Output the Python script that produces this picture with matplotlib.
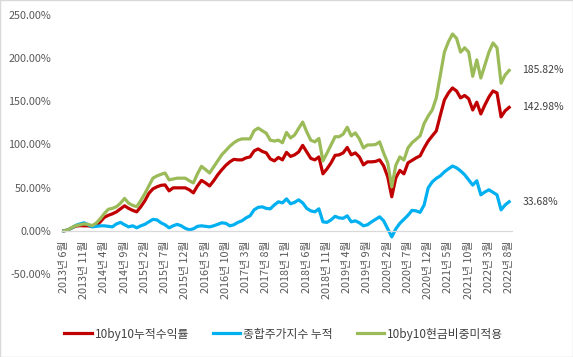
import matplotlib
matplotlib.use("Agg")
import matplotlib.pyplot as plt
from matplotlib.patches import Rectangle

plt.rcParams['font.family'] = ['Noto Sans CJK KR', 'DejaVu Sans']

# monthly months from 2013-06 to 2022-08
years = []
months = []
y, m = 2013, 6
while (y, m) <= (2022, 8):
    years.append(y)
    months.append(m)
    m += 1
    if m > 12:
        m = 1
        y += 1
labels = [f"{yy}년 {mm}월" for yy, mm in zip(years, months)]

series_names = ["10by10누적수익률", "종합주가지수 누적", "10by10현금비중미적용"]

red = [0, 1, 3.5, 5.5, 6, 5.8, 5.8, 5, 5.8, 10.4,
       15.6, 18, 19.7, 22, 25.5, 29, 26, 23.7, 22, 27.8,
       34.7, 43.4, 48.6, 51, 52.7, 53.2, 46.3, 49.8, 49.8, 49.8,
       49.8, 47.5, 44, 52, 58.4, 55.5, 52, 57.9, 64.8, 70.6,
       75.8, 79.9, 82.8, 82.2, 82.2, 84.5, 85.6, 92.6, 94.9, 92,
       90.3, 83.3, 81, 85, 82.2, 90.9, 86.2, 88, 91.4, 99,
       91.4, 83.9, 82.2, 85.6, 66, 71.8, 78.7, 87.4, 88, 90.3,
       96.6, 88, 90.3, 85.6, 76.4, 79.9, 79.9, 80.4, 82.2, 75.2,
       62.5, 39.4, 61.3, 70, 66, 78.7, 81.6, 84.5, 86.8, 96,
       104, 110, 115.7, 134, 151.6, 159.7, 165.5, 162, 154, 156.8,
       153, 140, 149, 135.4, 145.8, 155, 162, 159.7, 132, 139,
       142.98]

blue = [0, 1, 3.5, 6.4, 8, 9.3, 7, 4.6, 5.2, 5.8,
        5.8, 5.2, 4.6, 8, 9.8, 7, 4.6, 5.8, 3.5, 5.8,
        7.5, 10.4, 13.3, 12.7, 9.3, 7, 3.5, 5.8, 7.5, 5.8,
        2.9, 1.2, 2.3, 5.2, 5.8, 5.2, 4.6, 5.8, 7.5, 9.3,
        8.7, 5.8, 7, 9.8, 11.6, 15, 17.4, 24.3, 27.2, 27.8,
        26, 25.5, 30, 33.6, 32.4, 37, 31.3, 33, 35.9, 32.4,
        26, 23.1, 22, 25.5, 10.4, 9.8, 12.7, 16.8, 15, 14.5,
        17.4, 10.4, 11.6, 9.3, 5.8, 7, 10.4, 13.3, 16.2, 11.6,
        2.3, -7, 2.3, 8.7, 13.3, 18, 23.7, 23.1, 21.4, 30,
        49.8, 56.7, 60.8, 63.7, 68.3, 71.8, 75, 73, 69.4, 65,
        59, 53, 58, 41.7, 45, 47.5, 44.6, 41.7, 24.3, 30,
        33.68]

green = [0, 1, 4, 6, 7, 8, 7.5, 6, 9, 14,
         20, 25, 26, 28, 32, 37.6, 32, 29.5, 28, 35,
         43, 52, 61, 63.6, 65.4, 67, 59, 60, 61, 61,
         61, 58, 55.5, 66, 74.7, 71, 67, 74, 81, 88,
         93, 98, 102, 105, 106.5, 106.5, 106.5, 116, 119, 116,
         113, 105, 104, 105, 102, 114, 107.6, 111, 118.6, 126,
         114.6, 105, 103, 107, 81, 90, 99.5, 109, 109, 112,
         120, 110, 113.4, 106.5, 96, 99.5, 99.5, 100, 103, 90,
         78.7, 51, 76, 85.6, 82, 96, 102, 106, 110, 124.4,
         133, 140, 154, 180.5, 207, 219, 228, 223, 207, 212,
         207, 179, 198, 177, 192, 207, 217.6, 212, 171, 180.5,
         185.82]

colors = ["#C00000", "#00B0F0", "#9BBB59"]
yticks = [-50, 0, 50, 100, 150, 200, 250]

W, H = 573, 357
fig = plt.figure(figsize=(W / 100, H / 100), dpi=100)
fig.patches.append(Rectangle((0, 0), 1, 1, transform=fig.transFigure,
                             fill=False, edgecolor="#d9d9d9", lw=1.0))
ax = fig.add_axes([61 / W, 1 - 274 / H, (512 - 61) / W, (274 - 15) / H])

x = list(range(len(labels)))
for vals, name, c in zip([red, blue, green], series_names, colors):
    ax.plot(x, vals, color=c, lw=2.3, label=name, solid_joinstyle='round')

ax.set_xlim(-0.7, len(labels) - 0.3)
ax.set_ylim(-50, 250)
ax.set_yticks(yticks)
ax.set_yticklabels([f"{v:.2f}%" for v in yticks], color="#595959", fontsize=7.8)
ax.tick_params(axis='y', length=0, pad=7)

for s in ['top', 'right', 'left']:
    ax.spines[s].set_visible(False)
ax.spines['bottom'].set_position(('data', 0))
ax.spines['bottom'].set_color("#d9d9d9")
ax.spines['bottom'].set_linewidth(0.9)

tick_idx = list(range(0, len(labels), 5))
ax.set_xticks(tick_idx)
ax.set_xticklabels([labels[i] for i in tick_idx], rotation=90, fontsize=7.8,
                   color="#595959", ha='center', va='top')
ax.tick_params(axis='x', length=0, pad=7)

for vals in [green, red, blue]:
    ax.annotate(f"{vals[-1]:.2f}%", xy=(x[-1], vals[-1]), xytext=(9.5, 0),
                textcoords='offset points', va='center', ha='left',
                fontsize=7.5, color="#404040")

fig.legend(loc='center', bbox_to_anchor=(0.495, 1 - 334 / H), ncol=3,
           frameon=False, fontsize=8.5, handlelength=2.35, handletextpad=0.25,
           columnspacing=2.0, labelcolor="#404040")

fig.savefig("out.png", dpi=100)
